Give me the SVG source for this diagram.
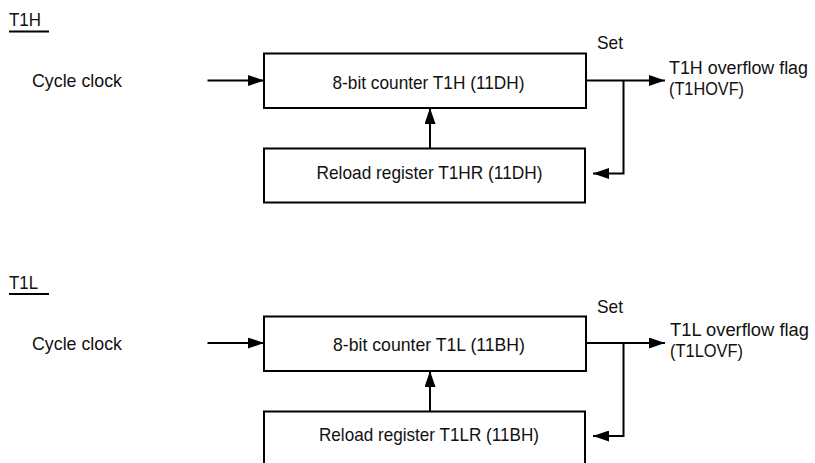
<svg xmlns="http://www.w3.org/2000/svg" width="815" height="463" viewBox="0 0 815 463">
  <defs>
    <marker id="arr" markerUnits="userSpaceOnUse" markerWidth="16" markerHeight="11" refX="16" refY="5.5" orient="auto">
      <path d="M0,0 L16,5.5 L0,11 z" fill="#000"/>
    </marker>
    <style>
      text { font-family: "Liberation Sans", Arial, sans-serif; font-size: 19px; fill: #111; }
      .mid { text-anchor: middle; }
      .flag { font-size: 18px; }
      .box { fill: #fff; stroke: #000; stroke-width: 2; }
      .ln { fill: none; stroke: #000; stroke-width: 2; }
    </style>
  </defs>
  <rect width="815" height="463" fill="#fff"/>

  <!-- T1H section -->
  <g id="title-t1h">
    <text x="9" y="26" textLength="32" lengthAdjust="spacingAndGlyphs">T1H</text>
    <line class="ln" x1="9" y1="31.5" x2="49" y2="31.5"/>
  </g>
  <g id="clk-t1h"><text x="32" y="86.5" textLength="90" lengthAdjust="spacingAndGlyphs">Cycle clock</text></g>
  <g id="counter-t1h">
    <rect class="box" x="264" y="53.5" width="322" height="54.5"/>
    <text class="mid" x="428.5" y="88.5" textLength="192" lengthAdjust="spacingAndGlyphs">8-bit counter T1H (11DH)</text>
  </g>
  <g id="reload-t1h">
    <rect class="box" x="264" y="148.5" width="321" height="54"/>
    <text class="mid" x="429.5" y="178.5" textLength="226" lengthAdjust="spacingAndGlyphs">Reload register T1HR (11DH)</text>
  </g>
  <g id="set-t1h"><text x="597" y="49" textLength="26" lengthAdjust="spacingAndGlyphs">Set</text></g>
  <g id="flag-t1h">
    <text class="flag" x="669" y="74" textLength="139" lengthAdjust="spacingAndGlyphs">T1H overflow flag</text>
    <text class="flag" x="669" y="95" textLength="75" lengthAdjust="spacingAndGlyphs">(T1HOVF)</text>
  </g>

  <!-- T1L section -->
  <g id="title-t1l">
    <text x="9" y="288.5" textLength="29" lengthAdjust="spacingAndGlyphs">T1L</text>
    <line class="ln" x1="9" y1="294" x2="49" y2="294"/>
  </g>
  <g id="clk-t1l"><text x="32" y="349.5" textLength="90" lengthAdjust="spacingAndGlyphs">Cycle clock</text></g>
  <g id="counter-t1l">
    <rect class="box" x="264" y="316.5" width="322" height="54.5"/>
    <text class="mid" x="429" y="351" textLength="192" lengthAdjust="spacingAndGlyphs">8-bit counter T1L (11BH)</text>
  </g>
  <g id="reload-t1l">
    <rect class="box" x="264" y="411.5" width="321" height="60"/>
    <text class="mid" x="429" y="441" textLength="220" lengthAdjust="spacingAndGlyphs">Reload register T1LR (11BH)</text>
  </g>
  <g id="set-t1l"><text x="597" y="313" textLength="26" lengthAdjust="spacingAndGlyphs">Set</text></g>
  <g id="flag-t1l">
    <text class="flag" x="670" y="336" textLength="139" lengthAdjust="spacingAndGlyphs">T1L overflow flag</text>
    <text class="flag" x="670" y="357" textLength="73" lengthAdjust="spacingAndGlyphs">(T1LOVF)</text>
  </g>

  <g id="connectors">
    <line class="ln" x1="207.5" y1="80.5" x2="264" y2="80.5" marker-end="url(#arr)"/>
    <line class="ln" x1="430" y1="148.5" x2="430" y2="108" marker-end="url(#arr)"/>
    <line class="ln" x1="586" y1="80.5" x2="665" y2="80.5" marker-end="url(#arr)"/>
    <polyline class="ln" points="623.5,80.5 623.5,173.5 593,173.5" marker-end="url(#arr)"/>

    <line class="ln" x1="207.5" y1="343" x2="264" y2="343" marker-end="url(#arr)"/>
    <line class="ln" x1="430" y1="411.5" x2="430" y2="371" marker-end="url(#arr)"/>
    <line class="ln" x1="586" y1="343" x2="665" y2="343" marker-end="url(#arr)"/>
    <polyline class="ln" points="623.5,343 623.5,436 593,436" marker-end="url(#arr)"/>
  </g>
</svg>
